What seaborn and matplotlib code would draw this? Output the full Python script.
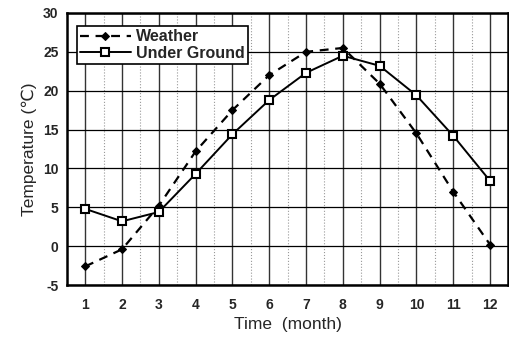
import numpy as np
import pandas as pd
import matplotlib
matplotlib.use("Agg")
import matplotlib.pyplot as plt
import seaborn as sns
from matplotlib.ticker import MultipleLocator

sns.set_style("white")
plt.rcParams['font.family'] = ['Liberation Sans', 'DejaVu Sans']
plt.rcParams['axes.unicode_minus'] = False

months = [1, 2, 3, 4, 5, 6, 7, 8, 9, 10, 11, 12]
weather = [-2.6, -0.4, 5.2, 12.2, 17.5, 22.0, 25.0, 25.5, 20.9, 14.5, 7.0, 0.2]
under_ground = [4.8, 3.2, 4.4, 9.3, 14.4, 18.8, 22.3, 24.5, 23.2, 19.4, 14.2, 8.4]

fig = plt.figure(figsize=(5.1, 3.41), dpi=100)
ax = fig.add_axes([0.131, 0.164, 0.866, 0.798])

# grid under the data
ax.xaxis.set_major_locator(MultipleLocator(1))
ax.xaxis.set_minor_locator(MultipleLocator(0.5))
ax.yaxis.set_major_locator(MultipleLocator(5))
ax.grid(which='major', axis='y', color='black', linewidth=0.9)
ax.grid(which='major', axis='x', color='#333333', linewidth=1.0)
ax.grid(which='minor', axis='x', color='#999999', linewidth=0.8, linestyle=':')
ax.set_axisbelow(True)

sns.lineplot(x=months, y=weather, ax=ax, color='black', linewidth=1.6,
             linestyle=(0, (4, 3)), marker='D', markersize=3.8,
             markerfacecolor='black', markeredgecolor='black', label='Weather')
sns.lineplot(x=months, y=under_ground, ax=ax, color='black', linewidth=1.4,
             marker='s', markersize=5.5, markerfacecolor='white',
             markeredgecolor='black', markeredgewidth=1.5, label='Under Ground')

ax.set_xlim(0.5, 12.5)
ax.set_ylim(-5, 30)
ax.tick_params(axis='both', which='both', length=0, labelsize=10, pad=9)
for lab in ax.get_xticklabels() + ax.get_yticklabels():
    lab.set_fontweight('bold')
ax.tick_params(axis='y', pad=6)
for s in ax.spines.values():
    s.set_color('black')
    s.set_linewidth(1.8)

ax.set_xlabel("Time  (month)", fontsize=12.5, labelpad=4)
ax.set_ylabel("Temperature (℃)", fontsize=12.5, labelpad=4)

leg = ax.legend(loc='upper left', bbox_to_anchor=(0.022, 0.952), borderaxespad=0,
                fontsize=11.5, frameon=True, fancybox=False, framealpha=1,
                borderpad=0.2, handlelength=3.2, handletextpad=0.3,
                labelspacing=0.1)
leg.get_frame().set_edgecolor('black')
leg.get_frame().set_linewidth(1.2)
for t in leg.get_texts():
    t.set_fontweight('bold')

fig.savefig("out.png", dpi=100)
